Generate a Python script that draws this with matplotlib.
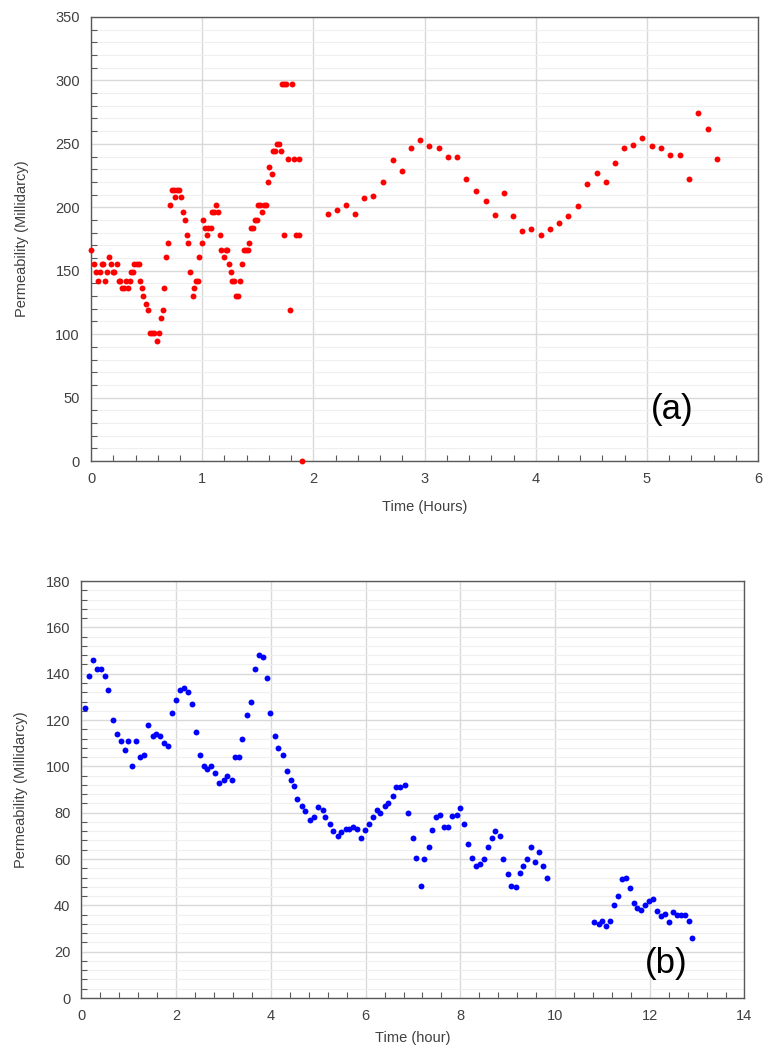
import numpy as np
import matplotlib
matplotlib.use("Agg")
import matplotlib.pyplot as plt
from matplotlib.ticker import MultipleLocator

plt.rcParams['font.family'] = ['Liberation Sans', 'DejaVu Sans']

# (a) time in hours, permeability in millidarcy
time_a = [0.000, 0.027, 0.042, 0.066, 0.080, 0.095, 0.110, 0.130, 0.146, 0.160,
          0.176, 0.194, 0.210, 0.230, 0.248, 0.263, 0.280, 0.300, 0.310, 0.328,
          0.346, 0.360, 0.376, 0.390, 0.410, 0.427, 0.440, 0.457, 0.470, 0.495,
          0.510, 0.528, 0.546, 0.564, 0.590, 0.610, 0.630, 0.645, 0.660, 0.675,
          0.695, 0.710, 0.728, 0.745, 0.758, 0.775, 0.792, 0.807, 0.824, 0.845,
          0.860, 0.875, 0.890, 0.913, 0.928, 0.943, 0.960, 0.973, 0.994, 1.009,
          1.024, 1.040, 1.054, 1.080, 1.090, 1.107, 1.125, 1.143, 1.158, 1.173,
          1.194, 1.210, 1.227, 1.240, 1.257, 1.270, 1.290, 1.300, 1.320, 1.343,
          1.358, 1.373, 1.390, 1.410, 1.424, 1.440, 1.457, 1.475, 1.490, 1.504,
          1.520, 1.537, 1.558, 1.576, 1.588, 1.600, 1.624, 1.640, 1.657, 1.670,
          1.690, 1.707, 1.720, 1.737, 1.737, 1.750, 1.773, 1.788, 1.806, 1.824,
          1.840, 1.870, 1.875, 1.900,
          2.129, 2.210, 2.294, 2.378, 2.458, 2.540, 2.630, 2.713, 2.794, 2.878,
          2.959, 3.043, 3.130, 3.214, 3.295, 3.375, 3.460, 3.550, 3.630, 3.710,
          3.795, 3.879, 3.960, 4.050, 4.130, 4.212, 4.293, 4.376, 4.457, 4.547,
          4.630, 4.712, 4.796, 4.877, 4.960, 5.050, 5.130, 5.210, 5.293, 5.377,
          5.458, 5.548, 5.632]
perm_a = [166, 155, 149, 142, 149, 155, 155, 142, 149, 161,
          155, 149, 149, 155, 142, 142, 136, 136, 142, 136,
          142, 149, 149, 155, 155, 155, 142, 136, 130, 124,
          119, 101, 101, 101, 95, 101, 113, 119, 136, 161,
          172, 202, 214, 214, 208, 214, 214, 208, 196, 190,
          178, 172, 149, 130, 136, 142, 142, 161, 172, 190,
          184, 178, 184, 184, 196, 196, 202, 196, 178, 166,
          161, 166, 166, 155, 149, 142, 142, 130, 130, 142,
          155, 166, 166, 166, 172, 184, 184, 190, 190, 202,
          202, 196, 202, 202, 220, 232, 226, 244, 244, 250,
          250, 244, 297, 297, 178, 297, 238, 119, 297, 238,
          178, 238, 178, 0,
          195, 198, 202, 195, 207, 209, 220, 237, 229, 247,
          253, 248, 247, 240, 240, 222, 213, 205, 194, 211,
          193, 181, 183, 178, 183, 188, 193, 201, 218, 227,
          220, 235, 247, 249, 255, 248, 247, 241, 241, 222,
          274, 262, 238]

# (b) time in hours, permeability in millidarcy
time_b = [0.08, 0.155, 0.247, 0.33, 0.41, 0.49, 0.57, 0.657, 0.75, 0.834,
          0.92, 0.99, 1.074, 1.16, 1.244, 1.33, 1.413, 1.5, 1.576, 1.654,
          1.745, 1.83, 1.915, 2.0, 2.085, 2.16, 2.24, 2.325, 2.41, 2.495,
          2.58, 2.657, 2.735, 2.82, 2.91, 3.0, 3.08, 3.17, 3.24, 3.32,
          3.4, 3.49, 3.576, 3.66, 3.745, 3.83, 3.915, 3.986, 4.08, 4.16,
          4.25, 4.33, 4.417, 4.49, 4.56, 4.65, 4.73, 4.82, 4.9, 5.0,
          5.09, 5.15, 5.24, 5.32, 5.41, 5.49, 5.58, 5.65, 5.73, 5.82,
          5.9, 5.986, 6.08, 6.16, 6.24, 6.31, 6.40, 6.48, 6.57, 6.65,
          6.735, 6.83, 6.9, 6.99, 7.07, 7.16, 7.24, 7.33, 7.41, 7.48,
          7.56, 7.65, 7.74, 7.83, 7.92, 8.0, 8.08, 8.16, 8.24, 8.33,
          8.41, 8.5, 8.58, 8.67, 8.74, 8.83, 8.91, 9.0, 9.08, 9.17,
          9.25, 9.32, 9.41, 9.49, 9.58, 9.66, 9.745, 9.83,
          10.83, 10.92, 11.0, 11.07, 11.15, 11.24, 11.32, 11.41, 11.49, 11.58,
          11.66, 11.73, 11.82, 11.9, 11.99, 12.07, 12.16, 12.24, 12.32, 12.4,
          12.49, 12.57, 12.65, 12.74, 12.82, 12.9]
perm_b = [125, 139, 146, 142, 142, 139, 133, 120, 114, 111,
          107, 111, 100, 111, 104, 105, 118, 113, 114, 113,
          110, 109, 123, 128.5, 133, 134, 132, 127, 115, 105,
          100, 99, 100, 97, 93, 94, 96, 94, 104, 104,
          112, 122, 128, 142, 148, 147, 138, 123, 113, 108,
          105, 98, 94, 91.5, 86, 83, 80.6, 77, 78, 82.4,
          81, 78, 75, 72, 70, 71.5, 73, 73, 74, 73,
          69, 72.5, 75, 78, 81, 80, 83, 84, 87, 91,
          91, 92, 80, 69, 60.3, 48.5, 60, 65, 72.5, 78,
          79, 74, 73.7, 78.6, 79, 82, 75, 66.6, 60.3, 57,
          58, 60, 65, 69, 72, 70, 60, 53.4, 48.5, 48,
          54, 57, 60, 65.3, 58.7, 63, 57, 52,
          33, 32, 33.4, 31, 33.4, 40, 44, 51.3, 52, 47.4,
          41, 38.7, 38, 40.3, 41.7, 42.6, 37.7, 35.3, 36.4, 33,
          37, 36, 36, 36, 33.3, 26]

fig = plt.figure(figsize=(7.65, 10.49), dpi=100)
ax1 = fig.add_axes([0.119, 0.5605, 0.872, 0.4233])
ax2 = fig.add_axes([0.1065, 0.0486, 0.8667, 0.3975])

label_style = dict(color='#404040', size=10.5)


def style_axes(ax, xmaj, xmin, ymaj, ymin):
    ax.xaxis.set_major_locator(MultipleLocator(xmaj))
    ax.xaxis.set_minor_locator(MultipleLocator(xmin))
    ax.yaxis.set_major_locator(MultipleLocator(ymaj))
    ax.yaxis.set_minor_locator(MultipleLocator(ymin))
    ax.grid(which='major', color='#d9d9d9', linewidth=1.0)
    ax.grid(which='minor', axis='y', color='#efefef', linewidth=0.8)
    ax.set_axisbelow(True)
    ax.tick_params(which='both', direction='in', colors='#595959',
                   labelcolor='#404040', labelsize=10.5)
    ax.tick_params(which='major', length=0, pad=8)
    ax.tick_params(which='minor', length=4, width=0.8)
    for s in ax.spines.values():
        s.set_color('#595959')
        s.set_linewidth(1.0)


ax1.scatter(time_a, perm_a, s=18, color='#ff0000', linewidths=0, zorder=3,
            clip_on=False)
ax1.set_xlim(0, 6)
ax1.set_ylim(0, 350)
style_axes(ax1, 1, 0.2, 50, 10)
ax1.set_xlabel('Time (Hours)', labelpad=10, **label_style)
ax1.set_ylabel('Permeability (Millidarcy)', labelpad=19, **label_style)
ax1.text(5.23, 41, '(a)', fontsize=25, ha='center', va='center', color='black')

ax2.scatter(time_b, perm_b, s=18, color='#0000ff', linewidths=0, zorder=3)
ax2.set_xlim(0, 14)
ax2.set_ylim(0, 180)
style_axes(ax2, 2, 0.4, 20, 4)
ax2.set_xlabel('Time (hour)', labelpad=6, **label_style)
ax2.set_ylabel('Permeability (Millidarcy)', labelpad=13, **label_style)
ax2.text(12.35, 15, '(b)', fontsize=25, ha='center', va='center', color='black')

fig.savefig('out.png', dpi=100)
